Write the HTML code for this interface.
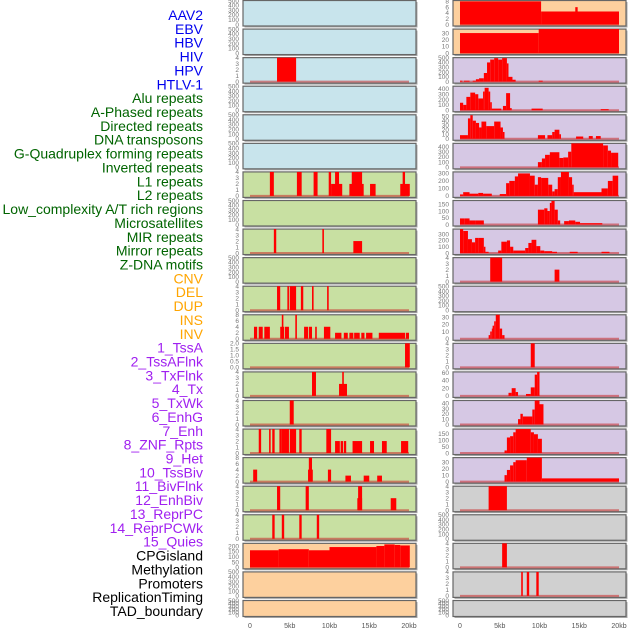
<!DOCTYPE html>
<html><head><meta charset="utf-8">
<style>
html,body{margin:0;padding:0;background:#fff;}
svg{display:block;font-family:"Liberation Sans",sans-serif;}
</style></head>
<body>
<svg id="chart" width="630" height="630" viewBox="0 0 630 630"></svg>
<script>
const labels = ["AAV2","EBV","HBV","HIV","HPV","HTLV-1","Alu repeats","A-Phased repeats","Directed repeats","DNA transposons","G-Quadruplex forming repeats","Inverted repeats","L1 repeats","L2 repeats","Low_complexity A/T rich regions","Microsatellites","MIR repeats","Mirror repeats","Z-DNA motifs","CNV","DEL","DUP","INS","INV","1_TssA","2_TssAFlnk","3_TxFlnk","4_Tx","5_TxWk","6_EnhG","7_Enh","8_ZNF_Rpts","9_Het","10_TssBiv","11_BivFlnk","12_EnhBiv","13_ReprPC","14_ReprPCWk","15_Quies","CPGisland","Methylation","Promoters","ReplicationTiming","TAD_boundary"];
const labelColors = ["#0000ee","#0000ee","#0000ee","#0000ee","#0000ee","#0000ee","#006400","#006400","#006400","#006400","#006400","#006400","#006400","#006400","#006400","#006400","#006400","#006400","#006400","#ffa500","#ffa500","#ffa500","#ffa500","#ffa500","#a020f0","#a020f0","#a020f0","#a020f0","#a020f0","#a020f0","#a020f0","#a020f0","#a020f0","#a020f0","#a020f0","#a020f0","#a020f0","#a020f0","#a020f0","#000","#000","#000","#000","#000"];
const panelBg = ["#c8e4ec","#c8e4ec","#c8e4ec","#c8e4ec","#c8e4ec","#c8e4ec","#c8e0a2","#c8e0a2","#c8e0a2","#c8e0a2","#c8e0a2","#c8e0a2","#c8e0a2","#c8e0a2","#c8e0a2","#c8e0a2","#c8e0a2","#c8e0a2","#c8e0a2","#fdd09e","#fdd09e","#fdd09e","#fdd09e","#fdd09e","#d6c8e4","#d6c8e4","#d6c8e4","#d6c8e4","#d6c8e4","#d6c8e4","#d6c8e4","#d6c8e4","#d6c8e4","#d6c8e4","#d6c8e4","#d6c8e4","#d6c8e4","#d6c8e4","#d6c8e4","#d0d0d0","#d0d0d0","#d0d0d0","#d0d0d0","#d0d0d0"];
const T4 = [0,1,2,3,4], T8 = [0,2,4,6,8], T500 = [0,100,200,300,400,500];
const yMax = [500,500,4,500,500,500,4,500,4,500,4,8,2,4,4,4,8,4,4,225,500,500,8.3,36,500,450,53,460,320,178,380,4,500,33,4,62,45,185,37,4,500,4,4,500];
const yTicks = [T500,T500,T4,T500,T500,T500,T4,T500,T4,T500,T4,T8,[0,0.5,1,1.5,2],T4,T4,T4,T8,T4,T4,[0,50,100,150,200],T500,T500,T8,[0,10,20,30],T500,[0,100,200,300,400],[0,10,20,30,40,50],[0,100,200,300,400],[0,100,200,300],[0,50,100,150],[0,100,200,300],T4,T500,[0,10,20,30],T4,[0,20,40,60],[0,10,20,30,40],[0,50,100,150],[0,10,20,30],T4,T500,T4,T4,T500];
const tickFmt = [null,null,null,null,null,null,null,null,null,null,null,null,1,null,null,null,null,null,null,null,null,null,null,null,null,null,null,null,null,null,null,null,null,null,null,null,null,null,null,null,null,null,null,null];
// segments: [startKb, endKb, value]
const segments = [
 [],[],[[3.4,5.8,4]],[],[],[],
 [[2.5,3.0,4],[5.9,6.5,4],[8.0,8.5,4],[9.9,10.2,4],[10.2,11.6,2],[10.7,11.2,4],[12.5,14.3,2],[12.8,14.1,4],[15.1,15.8,2],[18.9,20.1,2],[19.2,19.5,4]],
 [],
 [[3.0,3.3,4],[9.1,9.3,4],[13.0,14.1,2]],
 [],
 [[3.4,3.8,4],[4.7,4.9,4],[5.0,5.8,4],[6.4,6.7,4],[7.8,8.0,4],[9.7,9.9,4]],
 [[0.5,0.9,4],[1.1,1.6,4],[1.8,2.5,4],[3.8,4.3,4],[4.0,4.2,8],[4.4,4.9,4],[5.7,5.9,8],[6.8,7.3,4],[7.4,7.8,4],[8.2,8.4,4],[9.3,10.1,4],[10.7,11.5,2],[11.8,12.3,2],[12.5,13.0,2],[13.1,13.8,2],[14.0,14.4,2],[14.6,15.4,2],[16.2,19.5,2],[19.6,20.0,2]],
 [[19.5,20.1,2]],
 [[7.8,8.3,4],[11.2,12.2,2],[11.6,11.8,4]],
 [[5.0,5.5,4]],
 [[1.1,1.4,4],[2.4,2.6,4],[2.8,3.1,4],[3.7,4.0,4],[4.0,4.9,4],[5.0,5.8,4],[6.2,6.5,4],[9.6,10.2,4],[10.7,11.3,2],[11.4,11.7,2],[11.8,12.1,2],[12.9,14.1,2],[15.1,15.6,2],[16.6,17.2,2],[19.0,19.9,2]],
 [[0.4,0.9,4],[7.3,7.9,4],[7.4,7.8,8],[9.8,10.2,4],[12.0,12.7,2],[14.3,15.0,2],[16.0,16.6,2]],
 [[3.4,3.8,4],[7.0,7.4,4],[13.5,14.1,2],[13.6,14.1,4],[17.7,18.4,2]],
 [[2.8,3.1,4],[4.0,4.3,4],[6.2,6.5,4],[8.4,8.7,4]],
 [[0,3.6,160],[3.6,7.4,170],[7.4,10.0,160],[10.0,15.9,190],[15.9,16.9,200],[16.9,18.2,215],[18.2,18.9,210],[18.9,20.1,205]],
 [],[],
 [[0,10.2,8],[10.2,20,4.5],[14.5,14.8,6]],
 [[0,9.9,30],[9.9,20,36]],
 [[0,0.3,20],[0.5,1.2,20],[1.6,2.0,20],[2.0,2.4,50],[2.4,3.0,70],[3.0,3.4,180],[3.4,3.8,400],[3.8,4.3,460],[4.3,4.8,490],[4.8,5.3,460],[5.3,5.9,490],[5.9,6.1,380],[6.1,6.6,100],[6.6,7.0,40],[9.9,10.4,20]],
 [[0,0.4,140],[0.4,0.8,100],[0.8,1.3,250],[1.3,1.9,330],[1.9,2.3,300],[2.3,2.9,220],[2.9,3.1,350],[3.1,3.6,420],[3.6,3.8,350],[3.8,4.0,150],[4.0,5.2,30],[5.4,5.8,80],[5.8,6.3,320],[6.3,6.5,40],[9.0,10.4,30],[17.7,18.7,20]],
 [[0,1.0,8],[1.0,1.3,45],[1.3,1.6,52],[1.6,2.0,40],[2.0,2.4,35],[2.4,2.7,25],[2.7,3.3,38],[3.3,4.3,28],[4.3,5.1,38],[5.1,5.4,25],[5.4,5.6,15],[9.8,10.7,8],[11.0,11.6,8],[11.6,11.9,15],[11.9,12.5,20],[12.5,12.7,10],[14.6,15.5,5],[16.2,16.7,6],[17.1,17.7,6]],
 [[9.8,10.3,100],[10.3,10.7,170],[10.7,11.3,240],[11.3,12.5,290],[12.5,13.0,180],[13.0,13.6,190],[13.6,14.0,300],[14.0,18.0,460],[18.0,18.6,420],[18.6,19.0,320],[19.0,19.9,280]],
 [[0,0.4,20],[0.4,1.2,50],[1.2,2.3,30],[2.3,2.9,40],[2.9,4.0,30],[5.0,5.8,25],[5.8,6.2,170],[6.2,6.9,200],[6.9,7.3,260],[7.3,8.8,300],[8.8,9.4,270],[9.4,9.8,150],[9.8,10.2,250],[10.2,11.1,240],[11.1,11.6,150],[11.6,11.9,60],[11.9,12.3,90],[12.3,12.7,250],[12.7,13.7,320],[13.7,14.1,250],[14.1,14.3,150],[14.3,17.8,50],[17.8,18.6,100],[18.6,19.2,200],[19.2,19.9,270]],
 [[0,0.6,45],[0.6,1.2,45],[1.2,1.9,30],[1.9,3.0,30],[9.8,10.6,110],[10.6,11.0,120],[11.0,11.3,100],[11.3,11.5,160],[11.5,11.9,175],[11.9,12.3,110],[12.3,12.6,30],[13.1,13.7,25],[13.7,14.5,30],[14.5,15.1,20],[15.1,17.9,10]],
 [[0,0.4,380],[0.4,1.0,350],[1.0,1.5,220],[1.5,1.9,170],[1.9,2.3,240],[2.3,3.0,240],[3.0,3.2,100],[3.2,3.6,20],[4.8,5.2,40],[5.2,5.9,180],[5.9,6.3,200],[6.3,6.7,100],[6.7,8.2,40],[8.2,8.6,80],[8.6,9.0,160],[9.0,9.6,210],[9.6,10.1,110],[10.1,10.6,40],[10.6,11.6,30],[11.6,12.2,20],[13.8,14.8,20],[17.8,18.8,20]],
 [[3.8,5.3,4],[11.9,12.5,2]],
 [],
 [[3.6,3.8,5],[3.8,4.0,10],[4.0,4.1,14],[4.1,4.3,18],[4.3,4.5,24],[4.5,5.0,33],[5.0,5.3,14],[5.3,5.6,5]],
 [[8.9,9.4,4]],
 [[6.1,6.5,8],[6.5,7.0,20],[7.0,7.3,10],[8.3,8.9,5],[8.9,9.4,22],[9.4,9.7,55],[9.7,10.0,62]],
 [[7.3,7.6,10],[7.6,7.9,20],[7.9,9.1,15],[9.1,9.4,28],[9.4,10.0,45],[10.0,10.5,38]],
 [[5.6,5.9,20],[5.9,6.3,120],[6.3,6.7,130],[6.7,7.0,160],[7.0,8.9,185],[8.9,9.3,160],[9.3,9.8,145],[9.8,10.3,110]],
 [[5.6,5.9,10],[5.9,6.3,18],[6.3,6.7,25],[6.7,7.0,30],[7.0,8.4,33],[8.4,10.3,37],[10.3,20.0,5]],
 [[3.6,5.9,4]],
 [],
 [[5.3,5.9,4]],
 [[7.7,7.9,4],[8.4,8.7,4],[9.6,9.9,4]],
 []
];
const xTickVals = [0,5,10,15,20];
const xTickLabels = ["0","5kb","10kb","15kb","20kb"];

const NS = "http://www.w3.org/2000/svg";
const svg = document.getElementById("chart");
function mk(tag, attrs, parent){const e=document.createElementNS(NS,tag);for(const k in attrs)e.setAttribute(k,attrs[k]);(parent||svg).appendChild(e);return e;}

// labels
labels.forEach((t,i)=>{
  const e = mk("text",{x:203,y:15+i*13.86+5,"text-anchor":"end","font-size":"14",fill:labelColors[i]});
  e.textContent = t;
  
  
});

const colLeft = [243,453];
const kb0 = [250,460];
const pxPerKb = 7.95;
function xScale(col,kb){return kb0[col]+kb*pxPerKb;}

for(let i=0;i<labels.length;i++){
  const col = i<22?0:1, row = i%22;
  const top = row<21 ? row*28.57+0.5 : 600.5;
  const h = row<21 ? 25.5 : 16;
  const x = colLeft[col], w = 173;
  const g = mk("g",{});
  
  
  mk("rect",{x:x+1.5,y:top+1.5,width:w,height:h,fill:"#aaa"},g);
  mk("rect",{x:x,y:top,width:w,height:h,fill:panelBg[i],stroke:"#666","stroke-width":"1.2"},g);
  const base = top+h-1.5, ph = h-1.5;
  const yScale = v => base - v/yMax[i]*ph;
  if(segments[i].length){
    const bl = mk("line",{x1:xScale(col,0),x2:xScale(col,20),y1:base,y2:base,stroke:"rgba(200,40,40,0.55)","stroke-width":"2"},g);
    
    
  }
  segments[i].forEach(s=>{
    const x1=xScale(col,s[0]), x2=xScale(col,s[1]), y=yScale(s[2]);
    const r = mk("rect",{x:x1,y:y,width:Math.max(1,x2-x1),height:base-y,fill:"#ff0000"},g);
    
    
  });
  yTicks[i].forEach(v=>{
    const y = base - v/yMax[i]*ph;
    const t = mk("text",{x:x-4,y:y+2.3,"text-anchor":"end","font-size":"6.5",fill:"#777"},g);
    t.textContent = tickFmt[i] ? v.toFixed(1) : String(v);
    
    
  });
}
// x axes
[0,1].forEach(col=>{
  xTickVals.forEach((v,j)=>{
    const t = mk("text",{x:xScale(col,v),y:628,"text-anchor":"middle","font-size":"7",fill:"#555"});
    t.textContent = xTickLabels[j];
    
    
  });
});
</script>
</body></html>
